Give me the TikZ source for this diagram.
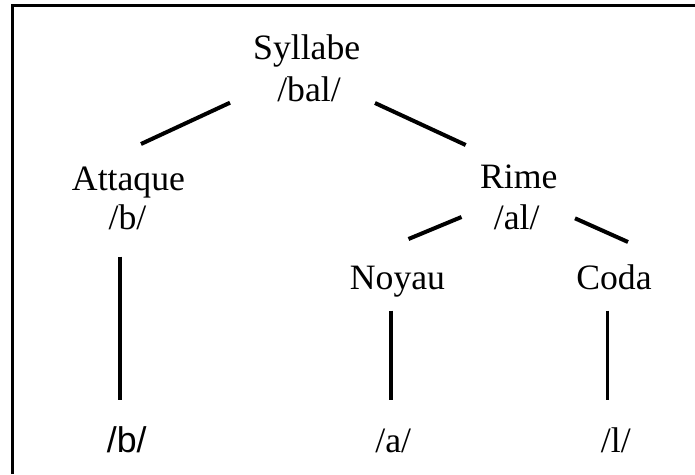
\documentclass[tikz,border=0pt]{standalone}
\usepackage{fontspec}
\setmainfont{Liberation Serif}
\newfontfamily\lsans{Liberation Sans}
\begin{document}
\begin{tikzpicture}[x=1pt,y=-1pt,
  lbl/.style={inner sep=0pt, anchor=base, font=\fontsize{35.7}{40}\selectfont},
  slbl/.style={lbl, font=\lsans\fontsize{35.7}{40}\selectfont},
  edge/.style={line width=4pt},
  stem/.style={line width=3.6pt},
  frame/.style={line width=3pt}]
\useasboundingbox (0,0) rectangle (695,474);
% frame (top and left edges only)
\coordinate (fbl) at (12.5,474);
\coordinate (ftl) at (12.5,5.5);
\coordinate (ftr) at (695,5.5);
\draw[frame] (fbl) -- (ftl) -- (ftr);
% labels
\node[lbl] (syl) at (306.7,59) {Syllabe};
\node[lbl] (bal) at (309,101) {/bal/};
\node[lbl] (att) at (128.5,190) {Attaque};
\node[lbl] (attb) at (127.5,229) {/b/};
\node[lbl] (rime) at (518.7,188.5) {Rime};
\node[lbl] (al) at (516.7,229) {/al/};
\node[lbl] (noy) at (397.5,289) {Noyau};
\node[lbl] (coda) at (614,289) {Coda};
\node[slbl] (lb) at (126.7,452) {/b/};
\node[lbl] (la) at (393.3,452) {/a/};
\node[lbl] (ll) at (615.8,452) {/l/};
% connector ends
\coordinate (s1) at (230,102.7);
\coordinate (a1) at (141,144);
\coordinate (s2) at (375,103);
\coordinate (r1) at (465.7,145);
\coordinate (r2) at (461.5,217);
\coordinate (n1) at (408.5,239);
\coordinate (r3) at (575,218.3);
\coordinate (c1) at (628,242);
\coordinate (ab1) at (120,256.7);
\coordinate (ab2) at (120,399.7);
\coordinate (nb1) at (390.7,310.7);
\coordinate (nb2) at (390.7,399.5);
\coordinate (cb1) at (607.3,310.7);
\coordinate (cb2) at (607.3,399.5);
% connectors
\draw[edge] (s1) -- (a1);
\draw[edge] (s2) -- (r1);
\draw[edge] (r2) -- (n1);
\draw[edge] (r3) -- (c1);
\draw[stem] (ab1) -- (ab2);
\draw[stem] (nb1) -- (nb2);
\draw[stem] (cb1) -- (cb2);
\end{tikzpicture}
\end{document}
